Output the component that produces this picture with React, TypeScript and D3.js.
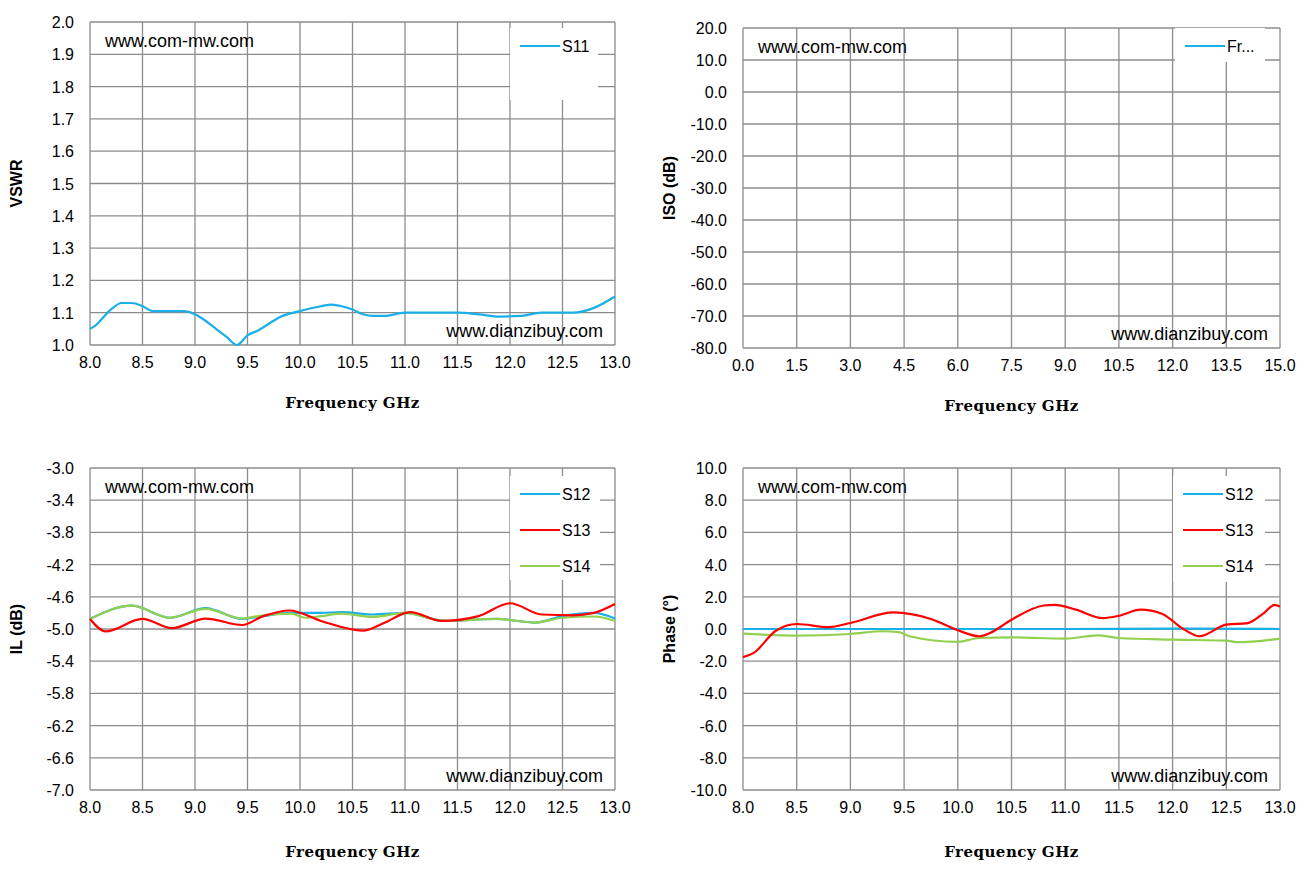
import React from "react";
import * as d3 from "d3";

const freq11 = [8.0, 8.05, 8.2, 8.3, 8.4, 8.5, 8.6, 8.8, 8.9, 9.0, 9.1, 9.2, 9.3, 9.4, 9.5, 9.6, 9.7, 9.8, 10.0, 10.2, 10.3, 10.4, 10.5, 10.6, 10.7, 10.8, 11.0, 11.2, 11.5, 11.7, 11.9, 12.1, 12.3, 12.6, 12.8, 13.0];
const s11 = [1.05, 1.06, 1.11, 1.13, 1.13, 1.12, 1.105, 1.105, 1.105, 1.095, 1.075, 1.05, 1.025, 1.0, 1.03, 1.045, 1.065, 1.085, 1.105, 1.12, 1.125, 1.12, 1.11, 1.095, 1.09, 1.09, 1.1, 1.1, 1.1, 1.095, 1.088, 1.09, 1.1, 1.1, 1.115, 1.15];

const ilFreqA = [8.0, 8.4, 8.76, 9.1, 9.45, 9.6, 9.92, 10.05, 10.2, 10.4, 10.7, 11.0, 11.38, 11.87, 12.24, 12.5, 12.8, 13.0];
const ilS12 = [-4.875, -4.71, -4.86, -4.74, -4.875, -4.85, -4.8, -4.8, -4.8, -4.79, -4.82, -4.8, -4.9, -4.875, -4.92, -4.84, -4.8, -4.87];
const ilS14 = [-4.875, -4.71, -4.86, -4.75, -4.87, -4.84, -4.81, -4.86, -4.84, -4.81, -4.85, -4.8, -4.9, -4.875, -4.92, -4.86, -4.845, -4.9];
const ilFreqB = [8.0, 8.15, 8.5, 8.78, 9.1, 9.45, 9.65, 9.9, 10.2, 10.6, 10.8, 11.05, 11.35, 11.7, 12.0, 12.3, 12.6, 12.8, 13.0];
const ilS13 = [-4.875, -5.03, -4.875, -4.99, -4.87, -4.95, -4.84, -4.77, -4.9, -5.02, -4.925, -4.79, -4.9, -4.84, -4.68, -4.82, -4.83, -4.8, -4.69];

const phFreqA = [8.0, 9.0, 10.0, 11.0, 12.0, 13.0];
const phS12 = [0.0, 0.0, 0.0, 0.0, 0.02, 0.0];
const phFreqB = [8.0, 8.5, 9.0, 9.3, 9.45, 9.55, 10.0, 10.2, 10.5, 11.0, 11.3, 11.5, 12.0, 12.5, 12.6, 13.0];
const phS14 = [-0.29, -0.41, -0.31, -0.14, -0.19, -0.45, -0.8, -0.56, -0.52, -0.6, -0.39, -0.56, -0.66, -0.72, -0.82, -0.6];
const phFreqC = [8.0, 8.1, 8.3, 8.5, 8.8, 9.0, 9.4, 9.75, 10.0, 10.2, 10.3, 10.5, 10.8, 10.9, 11.1, 11.35, 11.5, 11.7, 11.9, 12.1, 12.25, 12.5, 12.7, 12.85, 12.95, 13.0];
const phS13 = [-1.75, -1.48, -0.14, 0.31, 0.12, 0.37, 1.03, 0.62, -0.08, -0.45, -0.25, 0.58, 1.46, 1.5, 1.2, 0.68, 0.82, 1.2, 0.95, 0, -0.45, 0.27, 0.37, 0.99, 1.5, 1.4];

const BLUE = "#1aafe6";
const RED = "#ff0000";
const GREEN = "#92d050";
const TICK_FONT = "'Liberation Sans', Arial, sans-serif";

type Series = {name: string; xs: number[]; ys: number[]; color: string};

interface PanelProps {
	left: number; right: number; top: number; bottom: number;
	xDomain: [number, number]; xStep: number;
	yDomain: [number, number]; yStep: number;
	yTitle: string;
	series: Series[];
	legend: {x: number; y: number; w: number; h: number; names: string[]; colors: string[]; rowH: number};
	titleY: number;
}

const Panel: React.FC<PanelProps> = (p) => {
	const x = d3.scaleLinear().domain(p.xDomain).range([p.left, p.right]);
	const y = d3.scaleLinear().domain(p.yDomain).range([p.bottom, p.top]);
	const xt = d3.range(p.xDomain[0], p.xDomain[1] + p.xStep / 2, p.xStep);
	const yt = d3.range(p.yDomain[0], p.yDomain[1] + p.yStep / 2, p.yStep);
	const line = d3.line<[number, number]>().x((d) => x(d[0])).y((d) => y(d[1])).curve(d3.curveMonotoneX);
	return (
		<g>
			{xt.map((v, i) => (
				<line key={"vx" + i} x1={x(v)} x2={x(v)} y1={p.top} y2={p.bottom} stroke="#8c8c8c" strokeWidth={1.3} />
			))}
			{yt.map((v, i) => (
				<line key={"hy" + i} x1={p.left} x2={p.right} y1={y(v)} y2={y(v)} stroke="#8c8c8c" strokeWidth={1.3} />
			))}
			{xt.map((v, i) => (
				<text key={"tx" + i} x={x(v)} y={p.bottom + 23} textAnchor="middle" fontFamily={TICK_FONT} fontSize={16} fill="#000">{v.toFixed(1)}</text>
			))}
			{yt.map((v, i) => (
				<text key={"ty" + i} x={p.left - 16} y={y(v) + 6} textAnchor="end" fontFamily={TICK_FONT} fontSize={16} fill="#000">{v.toFixed(1)}</text>
			))}
			<text x={(p.left + p.right) / 2} y={p.bottom + p.titleY} textAnchor="middle" fontFamily="'DejaVu Serif', serif" fontWeight="bold" fontSize={15} letterSpacing={0.5}>Frequency GHz</text>
			<text transform={`translate(${p.left - 68},${(p.top + p.bottom) / 2}) rotate(-90)`} textAnchor="middle" fontFamily={TICK_FONT} fontWeight="bold" fontSize={16}>{p.yTitle}</text>
			{p.series.map((s) => (
				<path key={s.name} d={line(s.xs.map((v, i) => [v, s.ys[i]] as [number, number])) || ""} fill="none" stroke={s.color} strokeWidth={2.2} />
			))}
			<text x={p.left + 15} y={p.top + 25} fontFamily={TICK_FONT} fontSize={18}>www.com-mw.com</text>
			<text x={p.right - 12} y={p.bottom - 8} textAnchor="end" fontFamily={TICK_FONT} fontSize={18}>www.dianzibuy.com</text>
			<rect x={p.legend.x} y={p.legend.y} width={p.legend.w} height={p.legend.h} fill="#fff" />
			{p.legend.names.map((n, i) => (
				<g key={n}>
					<line x1={p.legend.x + 10} x2={p.legend.x + 50} y1={p.legend.y + 18 + i * p.legend.rowH} y2={p.legend.y + 18 + i * p.legend.rowH} stroke={p.legend.colors[i]} strokeWidth={2.2} />
					<text x={p.legend.x + 52} y={p.legend.y + 24 + i * p.legend.rowH} fontFamily={TICK_FONT} fontSize={16}>{n}</text>
				</g>
			))}
		</g>
	);
};

export default function App() {
	return (
		<svg width={1308} height={874} style={{display: "block", background: "#fff", margin: "-8px"}}>
			<Panel left={90} right={615} top={22} bottom={345} xDomain={[8, 13]} xStep={0.5} yDomain={[1, 2]} yStep={0.1} yTitle="VSWR" titleY={63}
				series={[{name: "S11", xs: freq11, ys: s11, color: BLUE}]}
				legend={{x: 510, y: 28, w: 88, h: 72, names: ["S11"], colors: [BLUE], rowH: 36}} />
			<Panel left={743} right={1280} top={28} bottom={348} xDomain={[0, 15]} xStep={1.5} yDomain={[-80, 20]} yStep={10} yTitle="ISO (dB)" titleY={63}
				series={[]}
				legend={{x: 1175, y: 28, w: 90, h: 34, names: ["Fr..."], colors: [BLUE], rowH: 36}} />
			<Panel left={90} right={615} top={468} bottom={790} xDomain={[8, 13]} xStep={0.5} yDomain={[-7, -3]} yStep={0.4} yTitle="IL (dB)" titleY={67}
				series={[
					{name: "S12", xs: ilFreqA, ys: ilS12, color: BLUE},
					{name: "S14", xs: ilFreqA, ys: ilS14, color: GREEN},
					{name: "S13", xs: ilFreqB, ys: ilS13, color: RED},
				]}
				legend={{x: 510, y: 476, w: 90, h: 104, names: ["S12", "S13", "S14"], colors: [BLUE, RED, GREEN], rowH: 36}} />
			<Panel left={743} right={1280} top={468} bottom={790} xDomain={[8, 13]} xStep={0.5} yDomain={[-10, 10]} yStep={2} yTitle="Phase (°)" titleY={67}
				series={[
					{name: "S12", xs: phFreqA, ys: phS12, color: BLUE},
					{name: "S14", xs: phFreqB, ys: phS14, color: GREEN},
					{name: "S13", xs: phFreqC, ys: phS13, color: RED},
				]}
				legend={{x: 1173, y: 476, w: 92, h: 106, names: ["S12", "S13", "S14"], colors: [BLUE, RED, GREEN], rowH: 36}} />
		</svg>
	);
}
